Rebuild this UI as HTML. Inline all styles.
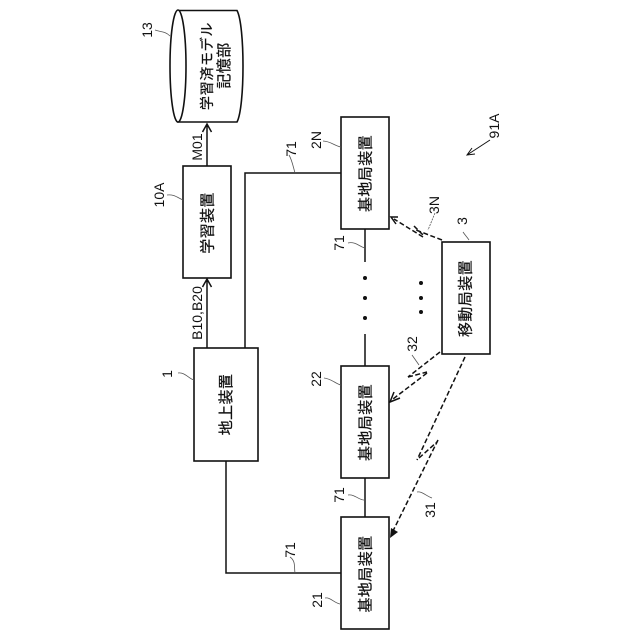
<!DOCTYPE html>
<html><head><meta charset="utf-8"><style>
html,body{margin:0;padding:0;background:#fff}
svg{display:block}
text{fill:#111;font-family:"Liberation Sans","Noto Sans CJK JP",sans-serif}
.j{font-size:15px;text-anchor:middle;font-family:"Noto Sans CJK JP",sans-serif;letter-spacing:.4px;stroke:#111;stroke-width:.25}
.l{font-size:14px;text-anchor:middle}
.b{fill:#fff;stroke:#111;stroke-width:1.6}
.w{fill:none;stroke:#111;stroke-width:1.5}
.t{fill:none;stroke:#555;stroke-width:.8}
.d{fill:none;stroke:#111;stroke-width:1.5;stroke-dasharray:5 2.500}
</style></head><body>
<svg width="640" height="640" viewBox="0 0 640 640" xmlns="http://www.w3.org/2000/svg">
<!-- cylinder -->
<path class="b" d="M178 10.500H237C245 25 245 107 237 122H178Z"/>
<ellipse class="b" cx="178" cy="66" rx="8" ry="56"/>
<!-- boxes -->
<rect class="b" x="183" y="166" width="48" height="112"/>
<rect class="b" x="194" y="348" width="64" height="113"/>
<rect class="b" x="341" y="117" width="48" height="112"/>
<rect class="b" x="341" y="366" width="48" height="112"/>
<rect class="b" x="341" y="517" width="48" height="112"/>
<rect class="b" x="442" y="242" width="48" height="112"/>
<!-- wires -->
<path class="w" d="M207 166V124M202.500 132L207 124L211.500 132"/>
<path class="w" d="M207 348V279M202.500 287L207 279L211.500 287"/>
<path class="w" d="M245 348V173H341"/>
<path class="w" d="M226 461V573H341"/>
<path class="w" d="M365 229V262M365 334V366M365 478V517"/>
<!-- dots -->
<g fill="#111">
<circle cx="365" cy="278" r="2"/><circle cx="365" cy="298" r="2"/><circle cx="365" cy="318" r="2"/>
<circle cx="421" cy="283" r="2"/><circle cx="421" cy="298" r="2"/><circle cx="421" cy="312" r="2"/>
</g>
<!-- wireless 3N -->
<path class="d" d="M442 240L416 230"/>
<path class="d" d="M423 237L394 219"/>
<path class="d" d="M414 226L424 236"/>
<path class="w" d="M398 217L391 217L396 224"/>
<!-- wireless 32 -->
<path class="d" d="M440 352L408 377"/>
<path class="d" d="M408 377L427 372"/>
<path class="d" d="M427 373L393 399"/>
<path class="w" d="M400 398L390 402L394 392"/>
<!-- wireless 31 -->
<path class="d" d="M465 357L417 460"/>
<path class="d" d="M419 458L437 442"/>
<path class="d" d="M438 440L392 533"/>
<path fill="#111" d="M390 538L391 528L398 532Z"/>
<!-- reference arrow 91A -->
<path class="w" style="stroke-width:1" d="M490 140L467 155M472 148L467 155L475 154"/>
<!-- leader lines -->
<path class="t" d="M155 30C160 32 165 31 170 36"/>
<path class="t" d="M167 195C174 194 178 198 183 200"/>
<path class="t" d="M289 155C292 160 293 166 295 173"/>
<path class="t" d="M323 141C330 141 335 146 341 147"/>
<path class="t" d="M348 243C355 241 360 247 365 248"/>
<path class="t" d="M463 232C465 235 467 237 469 240"/>
<path class="t" stroke-dasharray="2 1" d="M435 213L428 230"/>
<path class="t" d="M412 355L419 365"/>
<path class="t" d="M178 373C185 372 189 379 194 380"/>
<path class="t" d="M324 378C332 379 336 384 341 385"/>
<path class="t" d="M348 495C355 494 360 501 365 500"/>
<path class="t" d="M417 492C422 491 426 496 432 498"/>
<path class="t" d="M290 557C296 561 294 568 295 573"/>
<path class="t" d="M325 598C331 597 335 604 341 604"/>
<!-- japanese labels -->
<text class="j" style="font-size:14px;letter-spacing:.7px" transform="translate(212 66) rotate(-90)">学習済モデル</text>
<text class="j" transform="translate(229 65.500) rotate(-90)">記憶部</text>
<text class="j" transform="translate(212.500 223) rotate(-90)">学習装置</text>
<text class="j" transform="translate(231 404.500) rotate(-90)">地上装置</text>
<text class="j" transform="translate(370.500 173.500) rotate(-90)">基地局装置</text>
<text class="j" transform="translate(370.500 422.500) rotate(-90)">基地局装置</text>
<text class="j" transform="translate(370.500 574) rotate(-90)">基地局装置</text>
<text class="j" transform="translate(470.500 298.500) rotate(-90)">移動局装置</text>
<!-- reference labels -->
<text class="l" transform="translate(152 30) rotate(-90)">13</text>
<text class="l" transform="translate(202 147) rotate(-90)">M01</text>
<text class="l" transform="translate(164 195) rotate(-90)">10A</text>
<text class="l" transform="translate(202 313) rotate(-90)">B10,B20</text>
<text class="l" transform="translate(172 374) rotate(-90)">1</text>
<text class="l" transform="translate(296 149) rotate(-90)">71</text>
<text class="l" transform="translate(321 140) rotate(-90)">2N</text>
<text class="l" transform="translate(344 243) rotate(-90)">71</text>
<text class="l" transform="translate(321 379) rotate(-90)">22</text>
<text class="l" transform="translate(344 495) rotate(-90)">71</text>
<text class="l" transform="translate(295 550) rotate(-90)">71</text>
<text class="l" transform="translate(322 600) rotate(-90)">21</text>
<text class="l" transform="translate(439 205) rotate(-90)">3N</text>
<text class="l" transform="translate(467 221) rotate(-90)">3</text>
<text class="l" transform="translate(417 344) rotate(-90)">32</text>
<text class="l" transform="translate(435 510) rotate(-90)">31</text>
<text class="l" transform="translate(499 126) rotate(-90)">91A</text>
</svg>
</body></html>
